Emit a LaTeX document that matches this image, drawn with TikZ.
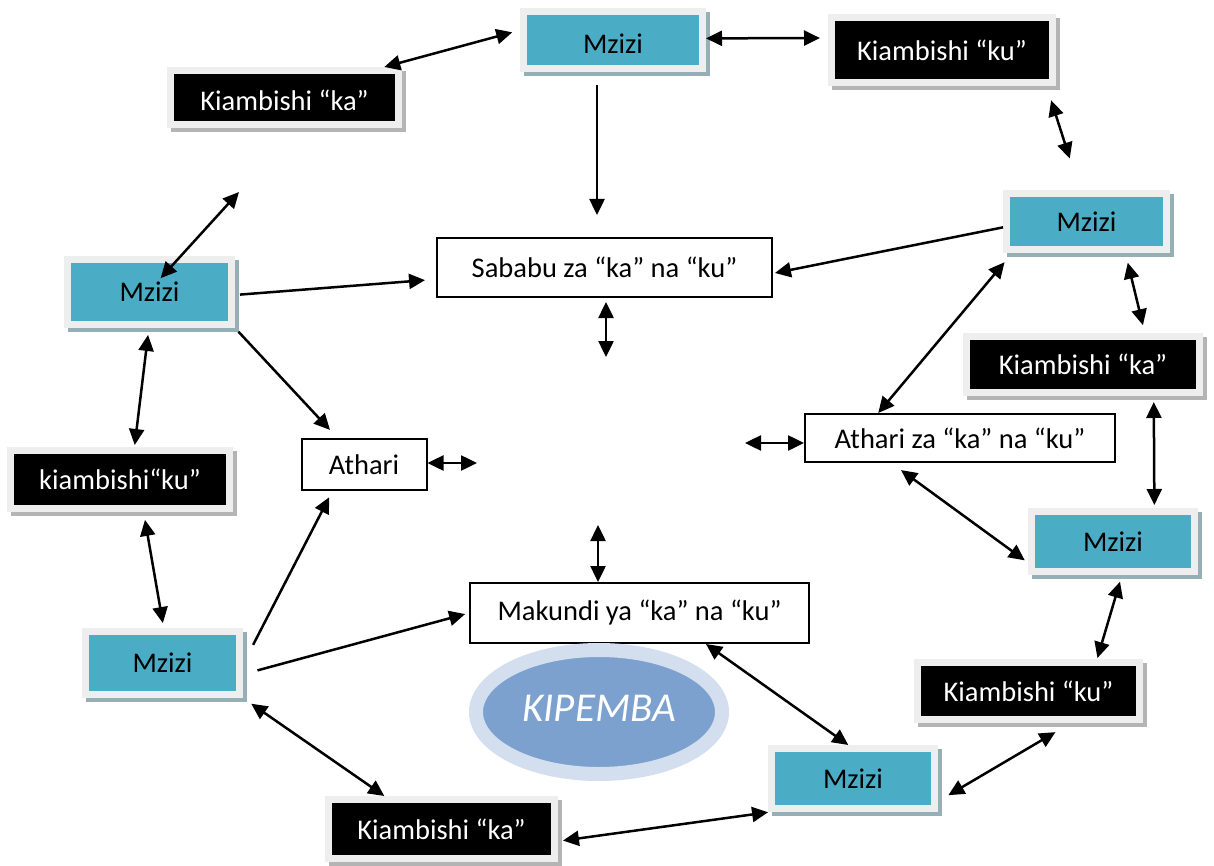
\documentclass[tikz,border=0pt]{standalone}
\usepackage{fontspec}
\setmainfont{Carlito}
\usepackage{xcolor}
\usepackage{tikz}
\usetikzlibrary{arrows.meta, shadows, shapes.geometric}

\definecolor{mziziblue}{HTML}{4BACC6}
\definecolor{mzizishadow}{HTML}{94AFB6}
\definecolor{blackshadow}{HTML}{B4B4B4}
\definecolor{framegray}{HTML}{EEEEEE}
\definecolor{kipouter}{HTML}{D3DEEF}
\definecolor{kipinner}{HTML}{7DA1CE}

\begin{document}
\begin{tikzpicture}[x=1pt, y=-1pt,
            line width=2.5pt,
            >={Triangle[length=16pt, width=15pt]},
            every node/.style={font=\fontsize{28.5}{34}\selectfont, inner sep=0pt},
            rootbox/.style={fill=mziziblue, draw=framegray, line width=7pt,
                drop shadow={shadow xshift=4pt, shadow yshift=-4pt, fill=mzizishadow, draw=mzizishadow, opacity=1}},
            prefixbox/.style={fill=black, text=white, draw=framegray, line width=7pt,
                drop shadow={shadow xshift=4pt, shadow yshift=-4pt, fill=blackshadow, draw=blackshadow, opacity=1}},
            textbox/.style={draw, fill=white, line width=2pt},
        ]
        \useasboundingbox (0,0) rectangle (1214,866);

        % boxes
        \node[rootbox, minimum width=179pt, minimum height=57pt, text height=27pt, text depth=0pt] (mzT) at (613,40) {Mzizi};
        \node[prefixbox, minimum width=221pt, minimum height=65pt] (kuT) at (942,50) {Kiambishi “ku”};
        \node[prefixbox, minimum width=228pt, minimum height=54pt, text height=26pt, text depth=0pt] (kaT) at (284.5,97.5) {Kiambishi “ka”};
        \node[rootbox, minimum width=160pt, minimum height=56pt] (mzR) at (1086.5,221.5) {Mzizi};
        \node[textbox, minimum width=335pt, minimum height=59pt] (sab) at (604.5,267.5) {Sababu za “ka” na “ku”};
        \node[rootbox, minimum width=164pt, minimum height=65pt] (mzL) at (149.5,292) {Mzizi};
        \node[prefixbox, minimum width=233pt, minimum height=56pt] (kaR) at (1083,364.5) {Kiambishi “ka”};
        \node[textbox, minimum width=310pt, minimum height=48pt] (athZ) at (960,438) {Athari za “ka” na “ku”};
        \node[textbox, minimum width=125pt, minimum height=51pt] (ath) at (364,464.5) {Athari};
        \node[prefixbox, minimum width=219pt, minimum height=58pt] (kuL) at (120,479.5) {kiambishi“ku”};
        \node[rootbox, minimum width=163pt, minimum height=60pt] (mzRL) at (1113,541.5) {Mzizi};
        \node[textbox, minimum width=339pt, minimum height=60pt] (mak) at (639.5,613) {Makundi ya “ka” na “ku”};
        \node[rootbox, minimum width=154pt, minimum height=63pt] (mzLL) at (162.5,663) {Mzizi};
        \node[prefixbox, minimum width=222pt, minimum height=57pt] (kuLR) at (1028.5,691) {Kiambishi “ku”};
        \node[rootbox, minimum width=163pt, minimum height=60pt] (mzB) at (853,778.5) {Mzizi};
        \node[prefixbox, minimum width=226pt, minimum height=59pt] (kaB) at (441.5,829) {Kiambishi “ka”};
        \node[ellipse, draw=kipouter, fill=kipinner, line width=14pt, minimum width=246pt, minimum height=124pt,
            text=white, text depth=8pt, font=\fontsize{41}{48}\selectfont\itshape] (kip) at (599,712) {KIPEMBA};

        % loose ends
        \coordinate (sT) at (597,215);
        \coordinate (sB) at (606,357);
        \coordinate (fL) at (239,192);
        \coordinate (fA) at (477,463);
        \coordinate (fZ) at (745,443);
        \coordinate (fM) at (598,525);

        % arrows
        \draw[<->, shorten >=8pt] (kaT.17) -- (mzT.174);
        \draw[<->, shorten >=8pt] (mzT.1) -- (kuT.174);
        \draw[->, shorten <=13pt] (mzT.south -| sT) -- (sT);
        \draw[<->, shorten <=15pt, shorten >=33pt] (kuT.-19) -- (mzR.102);
        \draw[->, shorten >=2pt] (mzR.184) -- (sab.-2);
        \draw[<->, shorten <=4pt] (sab.south -| sB) -- (sB);
        \draw[<->, shorten <=-30pt] (mzL.49) -- (fL);
        \draw[->, shorten <=5pt, shorten >=11pt] (mzL.-2) -- (sab.184);
        \draw[->, shorten <=5pt, shorten >=11pt] (mzL.south east) -- (ath.135);
        \draw[<->, shorten <=7pt, shorten >=2pt] (mzL.269) -- (kuL.66);
        \draw[<->] (ath.east |- fA) -- (fA);
        \draw[<->] (fZ) -- (athZ.west |- fZ);
        \draw[<->, shorten >=12pt] (athZ.163) -- (mzR.203);
        \draw[<->, shorten <=10pt, shorten >=8pt] (mzR.-39) -- (kaR.27);
        \draw[<->, shorten <=6pt, shorten >=3pt] (kaR.-24) -- (mzRL.39);
        \draw[<->, shorten <=12pt, shorten >=4pt] (athZ.200) -- (mzRL.194);
        \draw[<->, shorten <=7pt, shorten >=1pt] (mzRL.-75) -- (kuLR.25);
        \draw[<->] (fM) -- (mak.north -| fM);
        \draw[<->, shorten <=8pt, shorten >=5pt] (kuL.-54) -- (mzLL.88);
        \draw[->, shorten <=22pt, shorten >=7pt] (mzLL.-1) -- (ath.220);
        \draw[->, shorten <=15pt, shorten >=4pt] (mzLL.-8) -- (mak.west);
        \draw[<->, shorten <=10pt] (mzLL.south east) -- (kaB.150);
        \draw[<->] (mak.-25) -- (mzB.98);
        \draw[<->, shorten <=12pt, shorten >=18pt] (mzB.-15) -- (kuLR.-37);
        \draw[<->, shorten <=5pt, shorten >=2pt] (kaB.-6) -- (mzB.202);
        \end{tikzpicture}
\end{document}
